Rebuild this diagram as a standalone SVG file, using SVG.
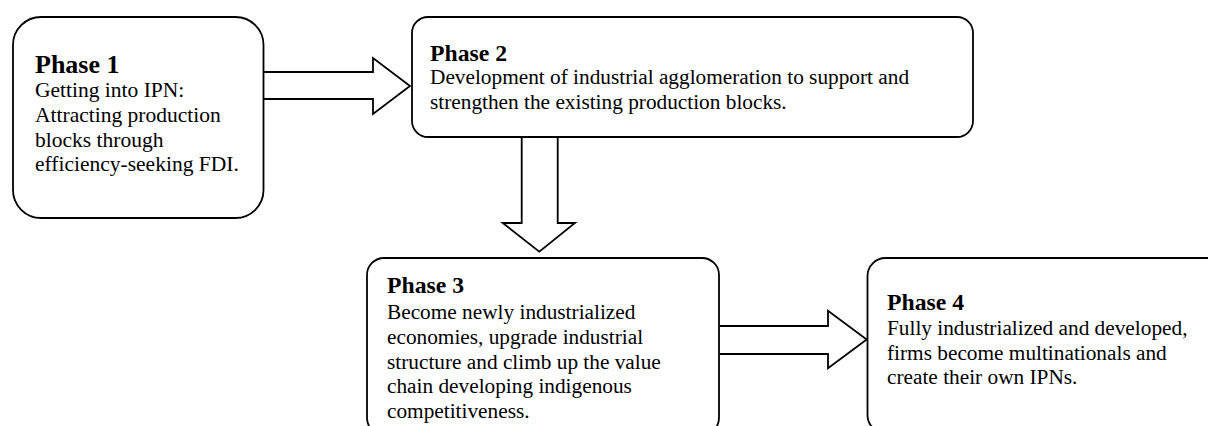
<svg xmlns="http://www.w3.org/2000/svg" width="1208" height="426" viewBox="0 0 1208 426">
<style>
.box{fill:#fff;stroke:#000;stroke-width:1.8}
.arr{fill:#fff;stroke:#000;stroke-width:1.8;stroke-linejoin:miter}
text{font-family:"Liberation Serif","Times New Roman",serif;fill:#000}
.h{font-weight:bold;font-size:23.7px}
.h1{font-weight:bold;font-size:26px}
.b{font-size:21.3px}
.b1{font-size:21.5px}
</style>
<rect width="1208" height="426" fill="#fff"/>
<g id="connectors">
<path class="arr" d="M264,72 H373 V58 L410,86 L373,114 V99 H264"/>
<path class="arr" d="M521.7,137 V223 H502.7 L539.3,251.7 L575,223 H557.7 V137"/>
<path class="arr" d="M720,326 H828 V310.7 L866.7,339.5 L828,368.3 V354 H720"/>
</g>
<g id="phase1">
<rect class="box" x="13" y="17" width="250.5" height="201" rx="28"/>
<text class="h1" x="35" y="72.5">Phase 1</text>
<text class="b1" x="35" y="97.3">Getting into IPN:</text>
<text class="b1" x="35" y="122">Attracting production</text>
<text class="b1" x="35" y="146.7">blocks through</text>
<text class="b1" x="35" y="171">efficiency-seeking FDI.</text>
</g>
<g id="phase2">
<rect class="box" x="412" y="17" width="561" height="120" rx="16"/>
<text class="h" x="430" y="60.7">Phase 2</text>
<text class="b" x="430" y="83.5">Development of industrial agglomeration to support and</text>
<text class="b" x="430" y="108.7">strengthen the existing production blocks.</text>
</g>
<g id="phase3">
<rect class="box" x="367" y="258" width="352" height="177" rx="17"/>
<text class="h" x="387" y="293">Phase 3</text>
<text class="b" x="387" y="319.3">Become newly industrialized</text>
<text class="b" x="387" y="344">economies, upgrade industrial</text>
<text class="b" x="387" y="368.7">structure and climb up the value</text>
<text class="b" x="387" y="393.3">chain developing indigenous</text>
<text class="b" x="387" y="417.5">competitiveness.</text>
</g>
<g id="phase4">
<rect class="box" x="867.5" y="258" width="360" height="175" rx="18"/>
<text class="h" x="887" y="310">Phase 4</text>
<text class="b" x="887" y="335">Fully industrialized and developed,</text>
<text class="b" x="887" y="360">firms become multinationals and</text>
<text class="b" x="887" y="384.3">create their own IPNs.</text>
</g>
</svg>
